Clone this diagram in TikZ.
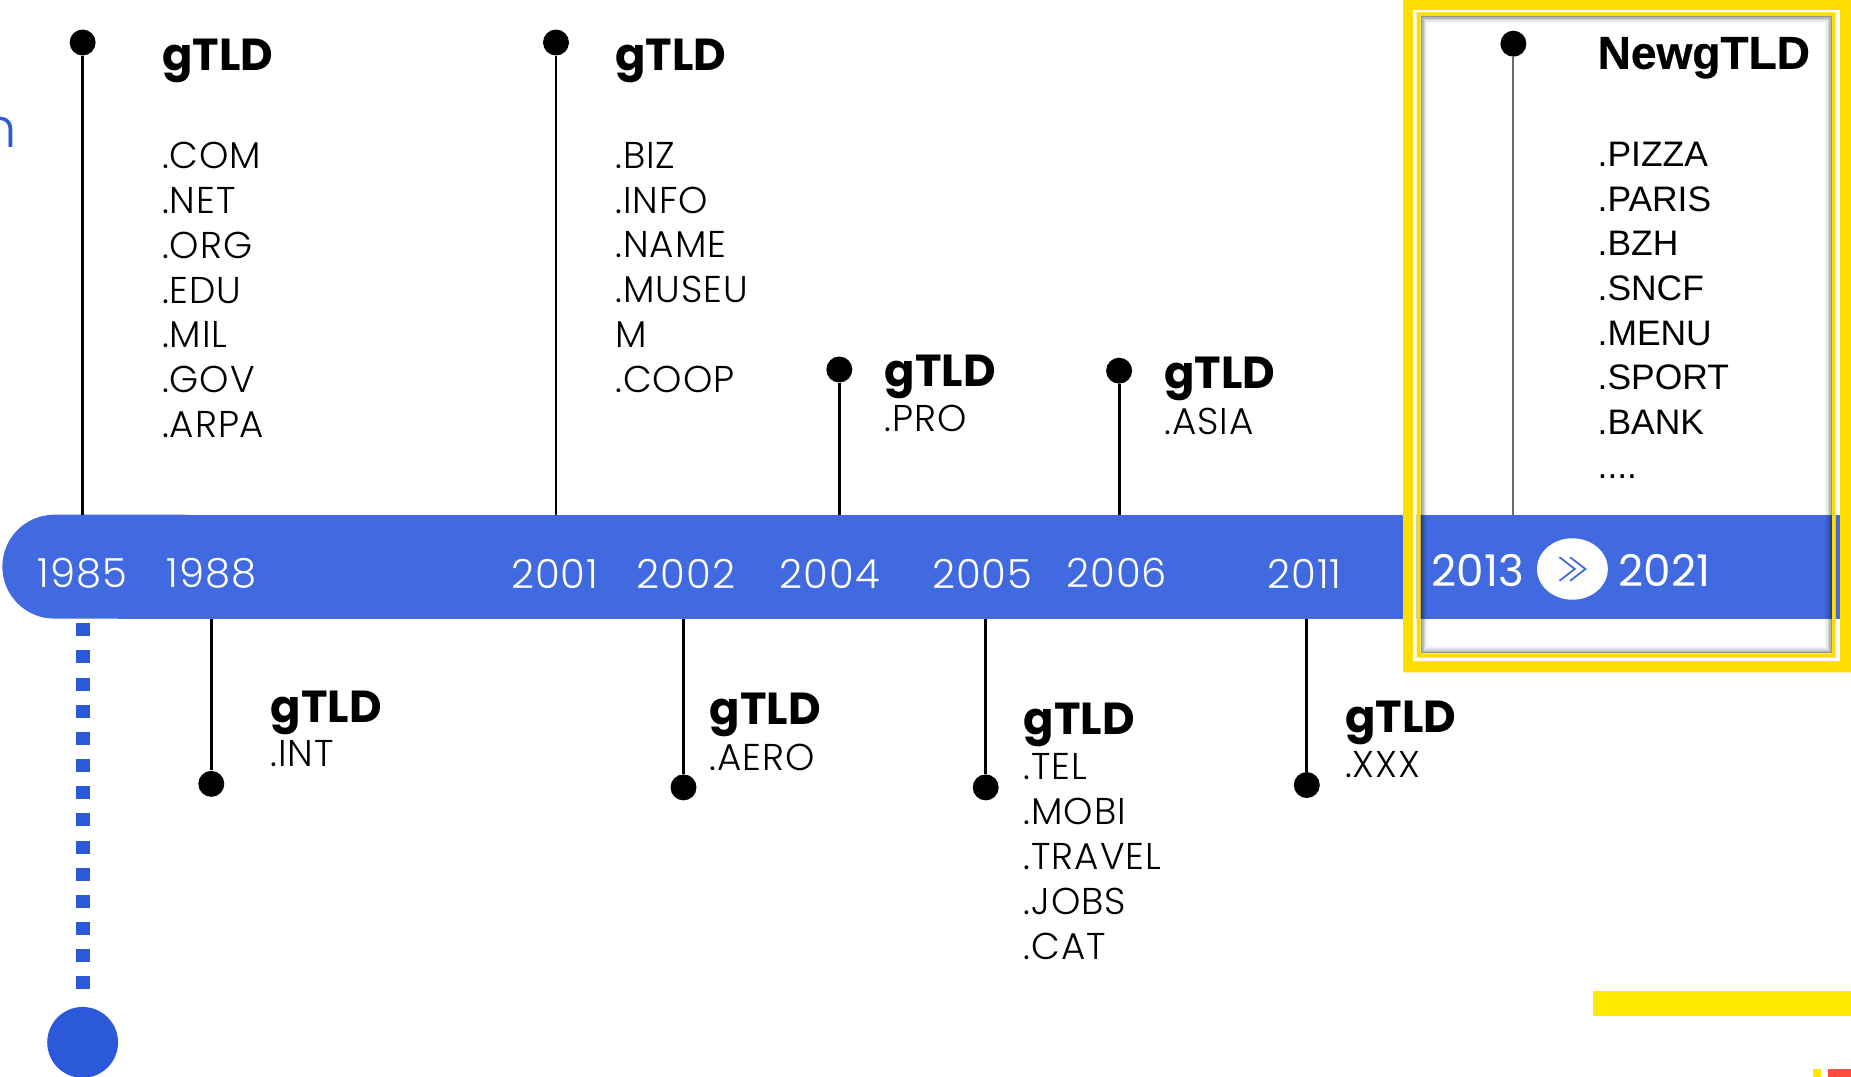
\documentclass[tikz,border=0pt]{standalone}
\usepackage{fontspec}
\usetikzlibrary{shapes.geometric}
\newfontfamily\lt{Poppins Light}
\newfontfamily\ltw{Poppins Light}[LetterSpace=2.5]
\newfontfamily\pop{Poppins}
\newfontfamily\ar{Liberation Sans}
\newfontfamily\arb{Liberation Sans Bold}[FakeBold=0.6]
\definecolor{barblue}{HTML}{4169E0}
\definecolor{dotblue}{HTML}{2B59DA}
\definecolor{yel}{HTML}{FFDD00}
\definecolor{yel2}{HTML}{FFE900}
\definecolor{redc}{HTML}{FF4D3D}
\begin{document}
\begin{tikzpicture}[x=0.5pt,y=-0.5pt,
  yr/.style={font=\ltw\fontsize{17}{18}\selectfont, text=white, inner sep=0},
  yrbig/.style={font=\pop\fontsize{18.5}{20}\selectfont, text=white, inner sep=0},
  hd/.style={font=\pop\bfseries\fontsize{19}{22}\selectfont, anchor=north west, inner sep=0},
  ls/.style={font=\ltw\fontsize{15.8}{19}\selectfont, anchor=north west, inner sep=0, align=left},
  bhd/.style={font=\arb\fontsize{19.5}{22}\selectfont, anchor=north west, inner sep=0},
  bls/.style={font=\ar\fontsize{15}{18.9}\selectfont, anchor=north west, inner sep=0, align=left},
  dot/.style={circle, fill=black, minimum size=11pt, inner sep=0},
  stem/.style={black, line width=1.2pt},
]
\useasboundingbox (0,0) rectangle (1568,912);
\clip (0,0) rectangle (1568,912);

% partial blue letter at left edge
\node[font=\lt\fontsize{23}{26}\selectfont, text=dotblue, inner sep=0, anchor=base east] (frag) at (15,125) {n};

% timeline bar
\fill[barblue, rounded corners=22pt] (2,436) rectangle (200,524);
\fill[barblue] (100,436) rectangle (1560,524);

% stem end coordinates on the bar
\coordinate (b85) at (70,436);
\coordinate (b01) at (471,436);
\coordinate (b04) at (711,436);
\coordinate (b06) at (948,436);
\coordinate (b13) at (1282,436);
\coordinate (b88) at (179,524);
\coordinate (b02) at (579,524);
\coordinate (b05) at (835,524);
\coordinate (b11) at (1107,524);

% dots
\node[dot] (d85) at (70,36) {};
\node[dot] (d01) at (471,36) {};
\node[dot] (d04) at (711,313) {};
\node[dot] (d06) at (948,314) {};
\node[dot] (d88) at (179,664) {};
\node[dot] (d02) at (579,667) {};
\node[dot] (d05) at (835,667) {};
\node[dot] (d11) at (1107,665) {};

\draw[stem] (d85) -- (b85);
\draw[stem] (d01) -- (b01);
\draw[stem] (d04) -- (b04);
\draw[stem] (d06) -- (b06);
\draw[stem] (d88) -- (b88);
\draw[stem] (d02) -- (b02);
\draw[stem] (d05) -- (b05);
\draw[stem] (d11) -- (b11);

% years
\node[yr] (y85) at (70,486) {1985};
\node[yr] (y88) at (179,486) {1988};
\node[yr] (y01) at (470,486) {2001};
\node[yr] (y02) at (581,486) {2002};
\node[yr] (y04) at (703,486) {2004};
\node[yr] (y05) at (832,486) {2005};
\node[yr] (y06) at (946,485) {2006};
\node[yr] (y11) at (1105,486) {2011};

% upper texts
\node[hd] (h85) at (137,33) {gTLD};
\node[ls] (l85) at (137,120) {.COM\\.NET\\.ORG\\.EDU\\.MIL\\.GOV\\.ARPA};
\node[hd] (h01) at (521,33) {gTLD};
\node[ls] (l01) at (521,120) {.BIZ\\.INFO\\.NAME\\.MUSEU\\M\\.COOP};
\node[hd] (h04) at (749,300) {gTLD};
\node[ls] (l04) at (749,343) {.PRO};
\node[hd] (h06) at (986,302) {gTLD};
\node[ls] (l06) at (986,345) {.ASIA};

% lower texts
\node[hd] (h88) at (229,585) {gTLD};
\node[ls] (l88) at (229,627) {.INT};
\node[hd] (h02) at (601,587) {gTLD};
\node[ls] (l02) at (601,630) {.AERO};
\node[hd] (h05) at (867,595) {gTLD};
\node[ls] (l05) at (867,638) {.TEL\\.MOBI\\.TRAVEL\\.JOBS\\.CAT};
\node[hd] (h11) at (1139,593) {gTLD};
\node[ls] (l11) at (1139,636) {.XXX};

% dotted line and big circle
\coordinate (ds) at (70,528);
\coordinate (de) at (70,845);
\draw[dotblue, line width=6pt, dash pattern=on 5.5pt off 6pt] (ds) -- (de);
\node[circle, fill=dotblue, minimum size=30pt, inner sep=0] (bigc) at (70,883) {};

% highlighted box frames
\fill[yel, even odd rule] (1188.5,-5) rectangle (1575,569.5) (1197,8.5) rectangle (1558.5,560);
\fill[white, even odd rule] (1197,8.5) rectangle (1558.5,560) (1200,10.5) rectangle (1555,557);
\fill[yel, even odd rule] (1200,10.5) rectangle (1555,557) (1203.5,13.5) rectangle (1552,553.5);
\fill[barblue] (1555,436) rectangle (1558.5,524);
\foreach \i/\o in {0/0.42,1/0.28,2/0.17,3/0.09,4/0.04}
  \draw[black, opacity=\o, line width=0.6pt]
    ({1204.1+1.2*\i},{14.1+1.2*\i}) rectangle ({1551.4-1.2*\i},{552.9-1.2*\i});

% box content
\node[dot] (d13) at (1282,37) {};
\draw[gray!85!black, line width=0.8pt] (d13) -- (b13);
\node[bhd] (h13) at (1353,31) {NewgTLD};
\node[bls] (l13) at (1353,120) {.PIZZA\\.PARIS\\.BZH\\.SNCF\\.MENU\\.SPORT\\.BANK\\....};
\node[yrbig] (y13) at (1252,483) {2013};
\node[ellipse, fill=white, minimum width=30pt, minimum height=26pt, inner sep=0] (chev) at (1332,482) {};
\draw[barblue, line width=0.75pt] ([shift={(-11,-10)}]chev.center) -- ++(13,10) -- ++(-13,10);
\draw[barblue, line width=0.75pt] ([shift={(-2,-10)}]chev.center) -- ++(13,10) -- ++(-13,10);
\node[yrbig] (y21) at (1410,483) {2021};

% decorative bars bottom right
\fill[yel2] (1349.5,839.5) rectangle (1570,860.5);
\fill[yel2] (1536,905.5) rectangle (1542.6,915);
\fill[redc] (1548.5,905.5) rectangle (1570,915);
\end{tikzpicture}
\end{document}
